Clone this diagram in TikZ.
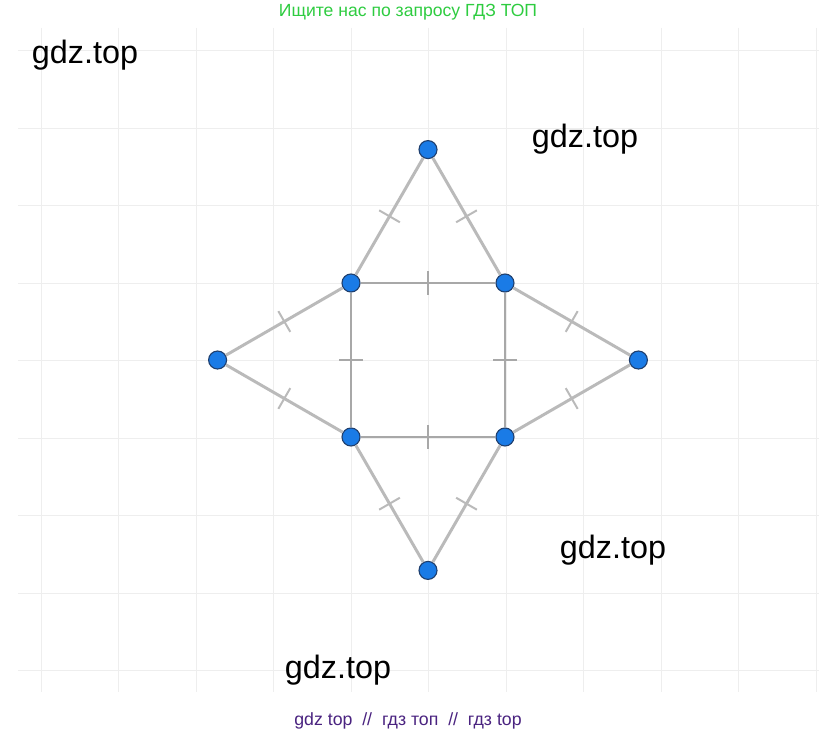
\documentclass[tikz,border=0pt]{standalone}
\usepackage{fontspec}
\setmainfont{Liberation Sans}
\usetikzlibrary{positioning}
\definecolor{pointblue}{HTML}{1A7BE6}
\definecolor{pointrim}{HTML}{1F3F6E}
\definecolor{edgegray}{HTML}{BABABA}
\definecolor{squaregray}{HTML}{A8A8A8}
\definecolor{gridgray}{HTML}{EEEEEE}
\definecolor{searchgreen}{HTML}{2ECC40}
\definecolor{footerpurple}{HTML}{4A2380}

\begin{document}
\begin{tikzpicture}[x=0.025cm, y=-0.025cm,
  vertex/.style={circle, fill=pointblue, draw=pointrim, line width=0.8pt, minimum size=12.8pt, inner sep=0},
  side/.style={edgegray, line width=2.1pt},
  square/.style={squaregray, line width=2.1pt},
  tick/.style={sloped, inner sep=0, text=#1},
  watermark/.style={font=\fontsize{23}{23}\selectfont}]
  % Page frame
  \useasboundingbox (0,0) rectangle (819,736);
  \fill[white] (0,0) rectangle (819,736);

  % Background grid
  \foreach \x in {0,...,10} {
    \draw[gridgray, line width=0.5pt] ({41+77.5*\x},28) -- ({41+77.5*\x},692);
  }
  \foreach \y in {0,...,8} {
    \draw[gridgray, line width=0.5pt] (18,{50.5+77.5*\y}) -- (819,{50.5+77.5*\y});
  }

  % Square corners and triangle apexes
  \node[vertex] (cornerNW) at (351,283) {};
  \node[vertex] (cornerNE) at (505,283) {};
  \node[vertex] (cornerSE) at (505,437) {};
  \node[vertex] (cornerSW) at (351,437) {};
  \node[vertex] (apexN) at (428,149.6) {};
  \node[vertex] (apexE) at (638.4,360) {};
  \node[vertex] (apexS) at (428,570.4) {};
  \node[vertex] (apexW) at (217.6,360) {};

  % Square sides with equal-length ticks
  \foreach \a/\b in {cornerNW/cornerNE, cornerNE/cornerSE, cornerSE/cornerSW, cornerSW/cornerNW} {
    \draw[square] (\a) -- node[tick=squaregray]{\rule{1.4pt}{17pt}} (\b);
  }
  % Triangle sides
  \foreach \a/\b in {cornerNW/apexN, apexN/cornerNE, cornerNE/apexE, apexE/cornerSE,
                     cornerSE/apexS, apexS/cornerSW, cornerSW/apexW, apexW/cornerNW} {
    \draw[side] (\a) -- node[tick=edgegray]{\rule{1.4pt}{17pt}} (\b);
  }

  % Watermarks
  \node[watermark] (wmTopLeft) at (85,55) {gdz.top};
  \node[watermark] (wmTopRight) at (585,139) {gdz.top};
  \node[watermark] (wmBottomRight) at (613,550) {gdz.top};
  \node[watermark] (wmBottom) at (338,670) {gdz.top};

  % Header and footer
  \node[searchgreen, font=\fontsize{12.5}{12.5}\selectfont] (header) at (408,12) {Ищите нас по запросу ГДЗ ТОП};
  \node[footerpurple, font=\fontsize{12.6}{12.6}\selectfont] (footer) at (408,721) {gdz top \ // \ гдз топ \ // \ гдз top};
\end{tikzpicture}
\end{document}
